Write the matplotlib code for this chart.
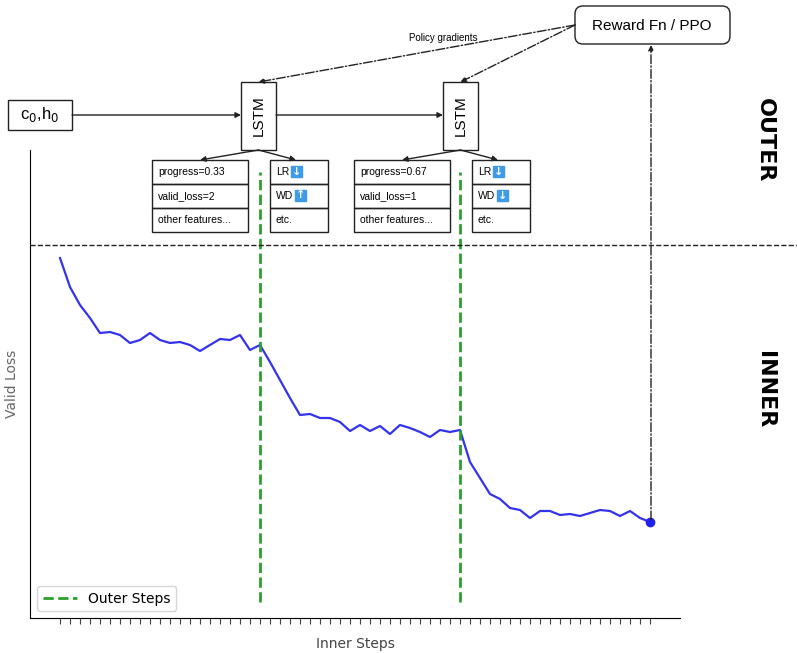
import numpy as np
import matplotlib.pyplot as plt
from matplotlib.patches import Rectangle, FancyBboxPatch

valid_loss = [3.60, 3.31, 3.13, 3.00, 2.85, 2.86, 2.83, 2.75, 2.78, 2.85,
              2.78, 2.75, 2.76, 2.73, 2.67, 2.73, 2.79, 2.78, 2.83, 2.68,
              2.73, 2.56, 2.38, 2.20, 2.03, 2.04, 2.00, 2.00, 1.96, 1.87,
              1.93, 1.87, 1.92, 1.84, 1.93, 1.90, 1.86, 1.81, 1.88, 1.86,
              1.88, 1.56, 1.40, 1.24, 1.19, 1.10, 1.08, 1.00, 1.07, 1.07,
              1.03, 1.04, 1.02, 1.05, 1.08, 1.07, 1.02, 1.07, 1.00, 0.96]
outer_steps = [20, 40]
features = [["progress=0.33", "valid_loss=2", "other features..."],
            ["progress=0.67", "valid_loss=1", "other features..."]]
actions = [[("LR", "↓"), ("WD", "↑"), ("etc.", None)],
           [("LR", "↓"), ("WD", "↓"), ("etc.", None)]]

W, H = 797, 653
fig = plt.figure(figsize=(W / 100, H / 100), dpi=100)

# inner plot
ax = fig.add_axes([30 / W, (H - 618) / H, 650 / W, 468 / H])
steps = np.arange(len(valid_loss))
ax.plot(steps, valid_loss, color='#3333ee', lw=1.6)
ax.plot(steps[-1], valid_loss[-1], 'o', color='#2222ee', ms=6)
for i, s in enumerate(outer_steps):
    ax.plot([s, s], [0.16, 4.46], '--', color='#2ca02c', lw=2,
            label='Outer Steps' if i == 0 else None)
ax.set_xlim(-3, 62)
ax.set_ylim(0, 4.68)
ax.set_xticks(steps)
ax.set_xticklabels([])
ax.tick_params(axis='x', length=4, color='#444')
ax.set_yticks([])
ax.spines['top'].set_visible(False)
ax.spines['right'].set_visible(False)
ax.set_xlabel('Inner Steps', fontsize=10, color='#444', labelpad=6)
ax.set_ylabel('Valid Loss', fontsize=10, color='#666', labelpad=8)
ax.legend(loc='lower left', fontsize=10, handlelength=2.5)

# diagram overlay in pixel coordinates
ov = fig.add_axes([0, 0, 1, 1], facecolor='none')
ov.set_xlim(0, W)
ov.set_ylim(H, 0)
ov.axis('off')

ov.plot([30, W], [245, 245], '--', color='#222', lw=1)

def box(x0, y0, x1, y1, **kw):
    ov.add_patch(Rectangle((x0, y0), x1 - x0, y1 - y0, fill=False, ec='#222', lw=1, **kw))

def arrow(x0, y0, x1, y1, ls='-'):
    ov.annotate('', xy=(x1, y1), xytext=(x0, y0),
                arrowprops=dict(arrowstyle='-|>', color='#222', lw=1, ls=ls, mutation_scale=8,
                                shrinkA=0, shrinkB=0))

ov.add_patch(FancyBboxPatch((575, 6), 155, 38, boxstyle='round,pad=0,rounding_size=8',
                            fill=False, ec='#222', lw=1))
ov.text(652, 26, 'Reward Fn / PPO', ha='center', va='center', fontsize=11,
        family='Liberation Sans')
ov.text(443, 38, 'Policy gradients', ha='center', va='center', fontsize=7,
        family='Liberation Sans')

box(8, 100, 72, 130)
ov.text(40, 115, r'c$_0$,h$_0$', ha='center', va='center', fontsize=12, family='Liberation Sans')
arrow(72, 115, 241, 115)
arrow(276, 115, 443, 115)

lstm_x = [241, 443]
for k, lx in enumerate(lstm_x):
    box(lx, 82, lx + 35, 150)
    ov.text(lx + 17.5, 116, 'LSTM', rotation=90, ha='center', va='center',
            fontsize=11, family='Liberation Sans')
    cx = lx + 17.5
    arrow(575, 25, cx, 82, ls='-.')
    fx0 = 152 + 202 * k
    arrow(cx, 150, fx0 + 48, 160)
    arrow(cx, 150, fx0 + 144, 160)
    for r, txt in enumerate(features[k]):
        box(fx0, 160 + 24 * r, fx0 + 96, 184 + 24 * r)
        ov.text(fx0 + 6, 172 + 24 * r, txt, va='center', fontsize=7.5, family='Liberation Sans')
    ax0 = fx0 + 118
    for r, (lab, sym) in enumerate(actions[k]):
        box(ax0, 160 + 24 * r, ax0 + 58, 184 + 24 * r)
        ov.text(ax0 + 6, 172 + 24 * r, lab, va='center', fontsize=7.5, family='Liberation Sans')
        if sym:
            bx = ax0 + 6 + (15 if lab == 'LR' else 19)
            ov.add_patch(Rectangle((bx, 166 + 24 * r), 11, 11, color='#3d9be9'))
            ov.text(bx + 5.5, 171.5 + 24 * r, sym, ha='center', va='center',
                    color='white', fontsize=8, fontweight='bold')

arrow(651, 520, 651, 45, ls='-.')

ov.text(765, 140, 'OUTER', rotation=-90, ha='center', va='center', fontsize=16, fontweight='bold')
ov.text(765, 390, 'INNER', rotation=-90, ha='center', va='center', fontsize=16, fontweight='bold')

fig.savefig('out.png', dpi=100)
